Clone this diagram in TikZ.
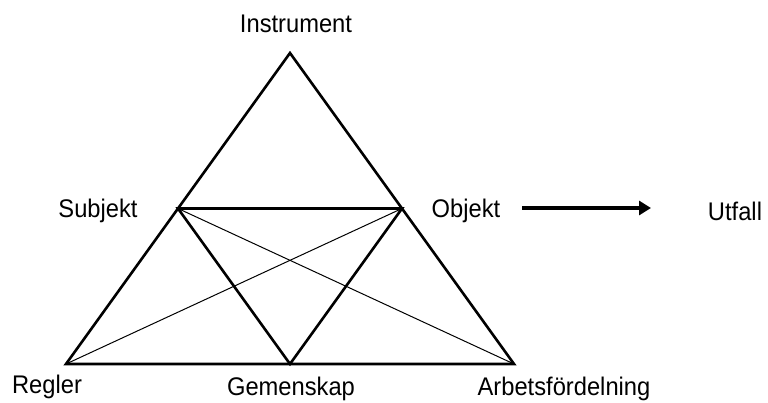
\documentclass[tikz,border=0pt]{standalone}
\usepackage{fontspec}
\setmainfont[FakeStretch=0.93]{Liberation Sans}
\usetikzlibrary{arrows.meta}
\begin{document}
\begin{tikzpicture}[x=1pt,y=-1pt,
  lbl/.style={font=\fontsize{25.5}{28}\selectfont, inner sep=0pt},
  thick line/.style={line width=2.6pt, line join=miter},
  thin line/.style={line width=1pt},
  flow/.style={line width=3.8pt, -{Triangle[length=12pt,width=14pt]}}]
\useasboundingbox (0,0) rectangle (768,403);
\coordinate (top) at (290,53);
\coordinate (bl) at (66,364);
\coordinate (br) at (514,364);
\coordinate (ml) at (178,208.5);
\coordinate (mr) at (402,208.5);
\coordinate (mb) at (290,364);
\draw[thick line] (top) -- (bl) -- (br) -- cycle;
\draw[thick line] (ml) -- (mr) -- (mb) -- cycle;
\draw[thin line] (ml) -- (br);
\draw[thin line] (mr) -- (bl);
\node[lbl] (instr) at (296,24) {Instrument};
\node[lbl] (subj) at (98,211) {Subjekt};
\node[lbl] (obj) at (466,211) {Objekt};
\node[lbl] (utf) at (735,211) {Utfall};
\node[lbl] (reg) at (47,387) {Regler};
\node[lbl] (gem) at (291,389) {Gemenskap};
\node[lbl] (arb) at (564,389) {Arbetsfördelning};
\coordinate (a0) at (522,208);
\coordinate (a1) at (651,208);
\draw[flow] (a0) -- (a1);
\end{tikzpicture}
\end{document}
